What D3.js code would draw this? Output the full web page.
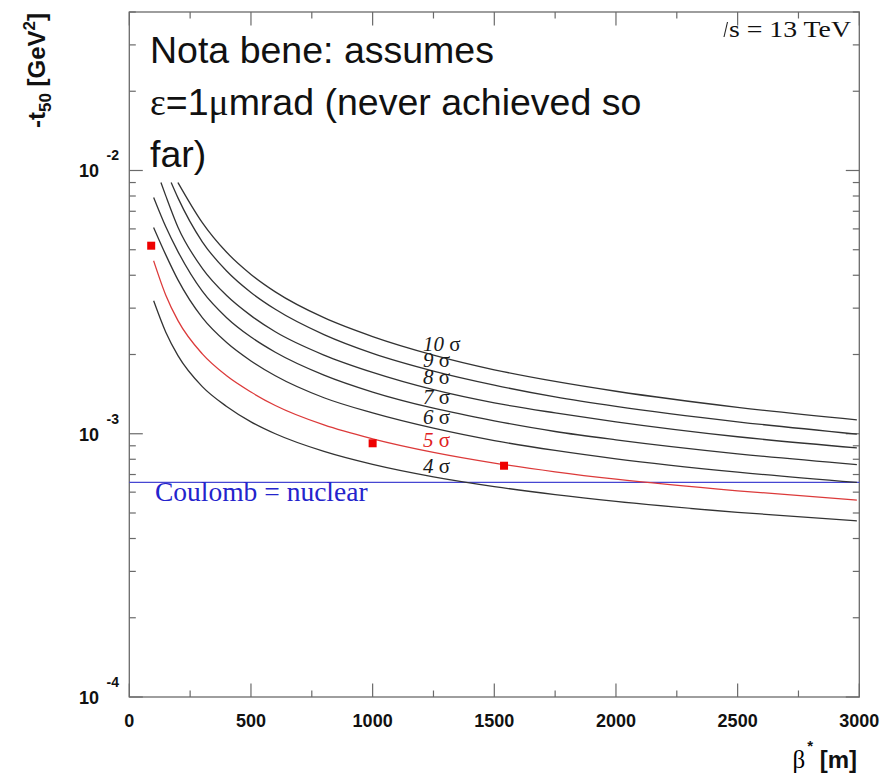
<!DOCTYPE html>
<html>
<head>
<meta charset="utf-8">
<script src="https://cdn.jsdelivr.net/npm/d3@7"></script>
<style>
  body { margin: 0; background: #fff; }
  svg { display: block; }
  .tlab { font-family: 'Liberation Sans', Arial, sans-serif; font-weight: bold; fill: #111; }
  .serif { font-family: 'Liberation Serif', 'Times New Roman', serif; }
  .note { font-family: 'Liberation Sans', Arial, sans-serif; font-size: 37.5px; fill: #111; }
</style>
</head>
<body>
<svg id="chart"></svg>
<script>
// beta* [m] grid and -t50 [1e-3 GeV^2], one array per sigma
const beta4to7 = [100, 150, 200, 300, 400, 500, 600, 800, 1000, 1250, 1500, 1750, 2000, 2500, 2990]
const t4 = [3.20, 2.43, 1.98, 1.51, 1.27, 1.11, 1.00, 0.857, 0.765, 0.686, 0.630, 0.587, 0.553, 0.503, 0.467]
const t5 = [4.54, 3.36, 2.69, 2.01, 1.66, 1.44, 1.28, 1.08, 0.957, 0.850, 0.774, 0.717, 0.672, 0.607, 0.560]
const t6 = [6.07, 4.78, 3.84, 2.76, 2.22, 1.89, 1.66, 1.37, 1.20, 1.05, 0.942, 0.864, 0.803, 0.715, 0.653]
const t7 = [7.90, 6.11, 4.92, 3.48, 2.76, 2.33, 2.04, 1.67, 1.44, 1.25, 1.12, 1.02, 0.948, 0.839, 0.763]

const beta8 = [130, 150, 200, 300, 400, 500, 600, 800, 1000, 1250, 1500, 1750, 2000, 2500, 2990]
const t8 = [9.00, 8.01, 6.09, 4.25, 3.35, 2.81, 2.44, 1.99, 1.71, 1.47, 1.31, 1.20, 1.11, 0.974, 0.883]

const beta9 = [172, 200, 300, 400, 500, 600, 800, 1000, 1250, 1500, 1750, 2000, 2500, 2990]
const t9 = [9.00, 7.87, 5.36, 4.15, 3.44, 2.97, 2.38, 2.02, 1.73, 1.53, 1.38, 1.27, 1.11, 0.997]

const beta10 = [200, 300, 400, 500, 600, 800, 1000, 1250, 1500, 1750, 2000, 2500, 2990]
const t10 = [9.00, 6.34, 4.89, 4.03, 3.46, 2.76, 2.34, 1.99, 1.75, 1.58, 1.45, 1.26, 1.13]

const sigmas = [4, 5, 6, 7, 8, 9, 10]

// measured points (red squares) and Coulomb = nuclear level
const pointBeta = [90, 1000, 1540]
const pointT = [5.18, 0.92, 0.756]
const coulombT = 0.653

const xTicks = [0, 500, 1000, 1500, 2000, 2500, 3000]
const yTicks = [1e-4, 1e-3, 1e-2]
const yTickExp = ['-4', '-3', '-2']

const series = [
    { s: 4, beta: beta4to7, t: t4 },
    { s: 5, beta: beta4to7, t: t5 },
    { s: 6, beta: beta4to7, t: t6 },
    { s: 7, beta: beta4to7, t: t7 },
    { s: 8, beta: beta8, t: t8 },
    { s: 9, beta: beta9, t: t9 },
    { s: 10, beta: beta10, t: t10 }
]

const width = 882
const height = 779
const frame = { left: 129.3, right: 859.3, top: 12, bottom: 697 }

const svg = d3.select('#chart')
    .attr('width', width)
    .attr('height', height)

const x = d3.scaleLinear()
    .domain([0, 3000])
    .range([frame.left, frame.right])

const y = d3.scaleLog()
    .domain([1e-4, 0.04])
    .range([frame.bottom, frame.top])

const axisColor = '#6a6a6a'

// frame
svg.append('rect')
    .attr('x', frame.left)
    .attr('y', frame.top)
    .attr('width', frame.right - frame.left)
    .attr('height', frame.bottom - frame.top)
    .attr('fill', 'none')
    .attr('stroke', axisColor)
    .attr('stroke-width', 1.3)

// x ticks, bottom and top, pointing inside
const xMinor = d3.range(250, 3000, 500)
const xAll = xTicks.map(v => ({ v, len: 13.5 })).concat(xMinor.map(v => ({ v, len: 6.5 })))
const ticks = svg.append('g').attr('stroke', axisColor).attr('stroke-width', 1.2)
xAll.forEach(d => {
    ticks.append('line')
        .attr('x1', x(d.v)).attr('x2', x(d.v))
        .attr('y1', frame.bottom).attr('y2', frame.bottom - d.len)
    ticks.append('line')
        .attr('x1', x(d.v)).attr('x2', x(d.v))
        .attr('y1', frame.top).attr('y2', frame.top + d.len)
})

// y ticks from the log scale, majors at decades
y.ticks().forEach(v => {
    const major = Math.abs(Math.log10(v) - Math.round(Math.log10(v))) < 1e-6
    const len = major ? 13.5 : 6.5
    ticks.append('line')
        .attr('x1', frame.left).attr('x2', frame.left + len)
        .attr('y1', y(v)).attr('y2', y(v))
    ticks.append('line')
        .attr('x1', frame.right).attr('x2', frame.right - len)
        .attr('y1', y(v)).attr('y2', y(v))
})

// x tick labels
svg.selectAll('.xlab')
    .data(xTicks)
    .enter()
    .append('text')
    .attr('class', 'tlab')
    .attr('x', d => x(d))
    .attr('y', frame.bottom + 30)
    .attr('font-size', 18)
    .style('text-anchor', 'middle')
    .text(d => d)

// y tick labels: 10 with exponent
const yl = svg.selectAll('.ylab')
    .data(yTicks)
    .enter()
    .append('g')
    .attr('transform', d => `translate(0, ${y(d)})`)

yl.append('text')
    .attr('class', 'tlab')
    .attr('x', 99)
    .attr('y', 7)
    .attr('font-size', 18)
    .style('text-anchor', 'end')
    .text('10')

yl.append('text')
    .attr('class', 'tlab')
    .attr('x', 106.5)
    .attr('y', -10)
    .attr('font-size', 14)
    .text((d, i) => yTickExp[i])

// axis titles
const yTitle = svg.append('text')
    .attr('class', 'tlab')
    .attr('font-size', 24)
    .attr('transform', 'translate(45, 13) rotate(-90)')
    .style('text-anchor', 'end')
yTitle.append('tspan').text('-t')
yTitle.append('tspan').attr('font-size', 17).attr('dy', 6).text('50')
yTitle.append('tspan').attr('dy', -6).text(' [GeV')
yTitle.append('tspan').attr('font-size', 17).attr('dy', -10).text('2')
yTitle.append('tspan').attr('dy', 10).text(']')

const xTitle = svg.append('text')
    .attr('x', 857)
    .attr('y', 768)
    .attr('font-size', 24)
    .style('text-anchor', 'end')
xTitle.append('tspan').attr('class', 'serif').attr('font-size', 25).text('β')
xTitle.append('tspan').attr('class', 'tlab').attr('font-size', 15).attr('dy', -17).attr('dx', 2).text('*')
xTitle.append('tspan').attr('class', 'tlab').attr('dy', 17).text(' [m]')

// Coulomb = nuclear
svg.append('line')
    .attr('x1', x(0)).attr('x2', x(3000))
    .attr('y1', y(coulombT * 1e-3)).attr('y2', y(coulombT * 1e-3))
    .attr('stroke', '#4646d2')
    .attr('stroke-width', 1.3)

svg.append('text')
    .attr('class', 'serif')
    .attr('x', 155)
    .attr('y', 501)
    .attr('font-size', 27.5)
    .attr('fill', '#2424cc')
    .text('Coulomb = nuclear')

// sigma curves
const lineGen = d3.line()
    .x(d => x(d[0]))
    .y(d => y(d[1] * 1e-3))
    .curve(d3.curveMonotoneX)

svg.selectAll('.curve')
    .data(series)
    .enter()
    .append('path')
    .attr('d', d => lineGen(d.beta.map((b, i) => [b, d.t[i]])))
    .attr('fill', 'none')
    .attr('stroke', d => d.s === 5 ? '#dc3a3a' : '#333')
    .attr('stroke-width', 1.3)

// curve labels
const labelBase = [472.5, 446.5, 424, 403.5, 384, 366.5, 350.5]
sigmas.forEach((s, i) => {
    const t = svg.append('text')
        .attr('class', 'serif')
        .attr('x', 423)
        .attr('y', labelBase[i])
        .attr('font-size', 21)
        .attr('fill', s === 5 ? '#e02020' : '#1a1a1a')
    t.append('tspan').attr('font-style', 'italic').text(s)
    t.append('tspan').text(' σ')
})

// measured points
svg.selectAll('.pt')
    .data(pointBeta)
    .enter()
    .append('rect')
    .attr('x', d => x(d) - 4)
    .attr('y', (d, i) => y(pointT[i] * 1e-3) - 4)
    .attr('width', 8)
    .attr('height', 8)
    .attr('fill', '#ee0000')

// sqrt(s) label
const sx = 729
svg.append('path')
    .attr('d', `M${sx - 5},37 L${sx - 1.5},22`)
    .attr('stroke', '#222')
    .attr('stroke-width', 1.1)
svg.append('text')
    .attr('class', 'serif')
    .attr('x', sx)
    .attr('y', 37)
    .attr('font-size', 23)
    .attr('textLength', 122)
    .attr('lengthAdjust', 'spacingAndGlyphs')
    .attr('fill', '#111')
    .text('s = 13 TeV')

// note
const note = svg.append('g').attr('class', 'note')
note.append('text').attr('x', 150).attr('y', 63).text('Nota bene: assumes')
const l2 = note.append('text').attr('x', 150).attr('y', 115)
l2.append('tspan').attr('class', 'serif').text('ε')
l2.append('tspan').text('=1')
l2.append('tspan').attr('class', 'serif').text('μ')
l2.append('tspan').text('mrad (never achieved so')
note.append('text').attr('x', 150).attr('y', 167).text('far)')
</script>
</body>
</html>
